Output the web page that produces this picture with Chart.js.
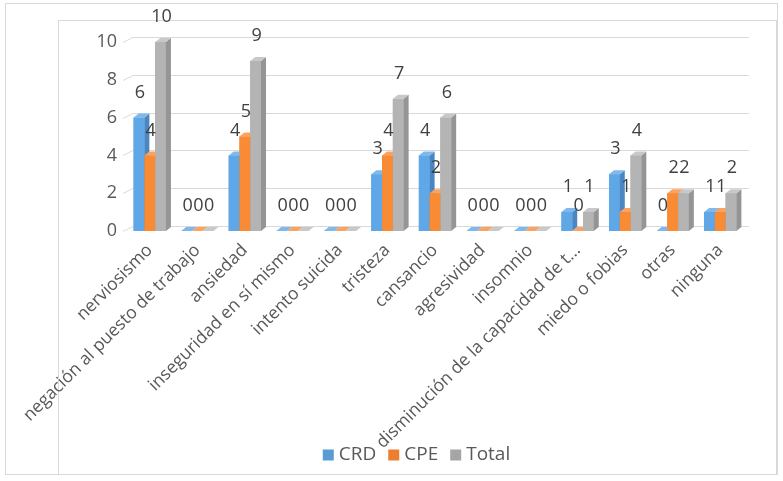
<!DOCTYPE html>
<html>
<head>
<meta charset="utf-8">
<script src="https://cdn.jsdelivr.net/npm/chart.js@4/dist/chart.umd.min.js"></script>
<style>
  html, body { margin: 0; padding: 0; background: #fff; }
  #wrap { position: relative; width: 783px; height: 481px; }
  .box { position: absolute; border: 1px solid #d9d9d9; box-sizing: border-box; }
</style>
</head>
<body>
<div id="wrap">
  <div class="box" style="left:5px;top:3px;width:773px;height:472px;"></div>
  <div class="box" style="left:58px;top:20px;width:719px;height:455px;"></div>
  <canvas id="myChart" width="783" height="481" style="position:absolute;left:0;top:0;"></canvas>
</div>
<script>
// categorias y valores
var labels = ['nerviosismo', 'negación al puesto de trabajo', 'ansiedad',
  'inseguridad en sí mismo', 'intento suicida', 'tristeza', 'cansancio',
  'agresividad', 'insomnio', 'disminución de la capacidad de t...',
  'miedo o fobias', 'otras', 'ninguna'];
var crd   = [6, 0, 4, 0, 0, 3, 4, 0, 0, 1, 3, 0, 1];
var cpe   = [4, 0, 5, 0, 0, 4, 2, 0, 0, 0, 1, 2, 1];
var total = [10, 0, 9, 0, 0, 7, 6, 0, 0, 1, 4, 2, 2];
var yTicks = [0, 2, 4, 6, 8, 10];

var FONT = "'Open Sans', sans-serif";
// front, side, top colours per serie
var faces = [
  ['#5fa7e6', '#4a87c2', '#7db9ee'],
  ['#f98b34', '#cf6c22', '#fba35e'],
  ['#b4b4b4', '#959595', '#c8c8c8']
];
var DX = 5, DY = 4;

// leyenda abajo, dibujada antes de las etiquetas del eje (se solapan como en el original)
var legendBelow = {
  id: 'legendBelow',
  beforeDraw: function(chart) {
    var ctx = chart.ctx;
    var ds = chart.data.datasets;
    ctx.save();
    ctx.font = '19px ' + FONT;
    ctx.textBaseline = 'middle';
    var box = 11, gap = 5, space = 12, cy = 455;
    var w = 0;
    ds.forEach(function(d, i) {
      w += box + gap + ctx.measureText(d.label).width + (i < ds.length - 1 ? space : 0);
    });
    var x = 416.5 - w / 2;
    ds.forEach(function(d) {
      ctx.fillStyle = d.backgroundColor;
      ctx.fillRect(x, cy - 5.5, box, box);
      x += box + gap;
      ctx.fillStyle = '#595959';
      ctx.fillText(d.label, x, cy);
      x += ctx.measureText(d.label).width + space;
    });
    ctx.restore();
  }
};

// grid on the "back wall" and 3d bars
var fake3d = {
  id: 'fake3d',
  beforeDatasetsDraw: function(chart) {
    var ctx = chart.ctx, y = chart.scales.y, a = chart.chartArea;
    ctx.save();
    ctx.strokeStyle = '#d9d9d9';
    ctx.lineWidth = 1;
    yTicks.forEach(function(t) {
      var py = Math.round(y.getPixelForValue(t)) + 0.5;
      ctx.beginPath();
      ctx.moveTo(a.left - 3, py);
      ctx.lineTo(a.left + 7, py - 5);
      ctx.lineTo(a.right + 5, py - 5);
      ctx.stroke();
    });
    ctx.restore();
  },
  afterDatasetsDraw: function(chart) {
    var ctx = chart.ctx;
    ctx.save();
    var n = labels.length;
    for (var i = 0; i < n; i++) {
      for (var d = 0; d < chart.data.datasets.length; d++) {
        var bar = chart.getDatasetMeta(d).data[i];
        var p = bar.getProps(['x', 'y', 'base', 'width'], true);
        var l = p.x - p.width / 2, r = p.x + p.width / 2;
        var top = p.y, base = p.base;
        var c = faces[d];
        ctx.fillStyle = c[0];
        ctx.fillRect(l, top, r - l, base - top);
        ctx.fillStyle = c[1];
        ctx.beginPath();
        ctx.moveTo(r, top); ctx.lineTo(r + DX, top - DY);
        ctx.lineTo(r + DX, base - DY); ctx.lineTo(r, base);
        ctx.closePath(); ctx.fill();
        ctx.fillStyle = c[2];
        ctx.beginPath();
        ctx.moveTo(l, top); ctx.lineTo(l + DX, top - DY);
        ctx.lineTo(r + DX, top - DY); ctx.lineTo(r, top);
        ctx.closePath(); ctx.fill();
      }
    }
    // value labels
    ctx.fillStyle = '#404040';
    ctx.font = '18px ' + FONT;
    ctx.textAlign = 'center';
    ctx.textBaseline = 'middle';
    chart.data.datasets.forEach(function(ds, d) {
      chart.getDatasetMeta(d).data.forEach(function(bar, i) {
        var p = bar.getProps(['x', 'y'], true);
        ctx.fillText(String(ds.data[i]), p.x + 1, p.y - 25);
      });
    });
    ctx.restore();
  }
};

new Chart('myChart', {
  type: 'bar',
  data: {
    labels: labels,
    datasets: [
      { label: 'CRD', data: crd, backgroundColor: '#5b9bd5' },
      { label: 'CPE', data: cpe, backgroundColor: '#ed7d31' },
      { label: 'Total', data: total, backgroundColor: '#a5a5a5' }
    ]
  },
  options: {
    responsive: false,
    animation: false,
    categoryPercentage: 0.68,
    barPercentage: 1,
    layout: { padding: { left: 89, top: 42, right: 39, bottom: 0 } },
    plugins: {
      tooltip: { enabled: false },
      legend: { display: false }
    },
    scales: {
      x: {
        grid: { display: false, drawTicks: false },
        border: { display: false },
        ticks: {
          autoSkip: false, minRotation: 45, maxRotation: 45,
          padding: 9, color: '#595959',
          font: { family: FONT, size: 17.5 }
        },
        afterFit: function(s) { s.height = 250; }
      },
      y: {
        min: 0, max: 10,
        grid: { display: false, drawTicks: false },
        border: { display: false },
        ticks: {
          stepSize: 2, padding: 9, color: '#595959',
          font: { family: FONT, size: 18 }
        },
        afterFit: function(s) { s.width = 37; }
      }
    }
  },
  plugins: [legendBelow, fake3d]
});
</script>
</body>
</html>
